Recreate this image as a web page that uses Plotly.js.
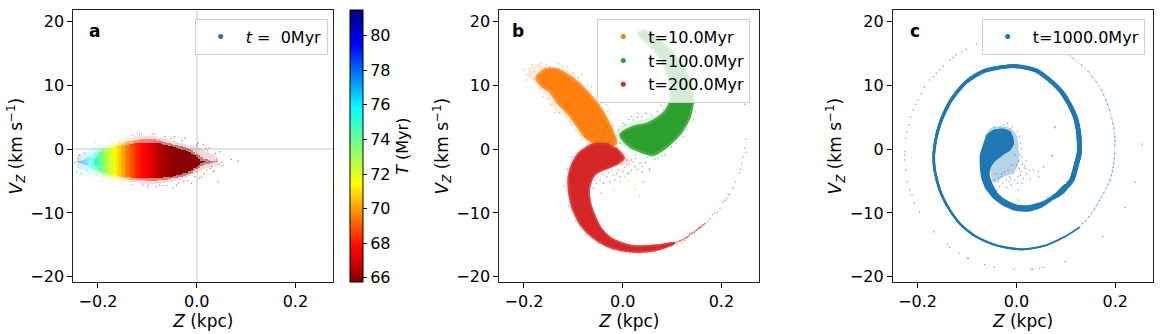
<!DOCTYPE html>
<html><head><meta charset="utf-8">
<script src="https://cdn.plot.ly/plotly-3.0.1.min.js"></script>
<style>html,body{margin:0;padding:0;background:#fff}</style></head>
<body><div id="chart" style="width:1163px;height:334px"></div>
<script>
// ---- Panel a: columns
const aZ=[-0.240,-0.235,-0.230,-0.225,-0.220,-0.215,-0.210,-0.205,-0.200,-0.195,-0.190,-0.185,-0.180,-0.175,-0.170,-0.165,-0.160,-0.155,-0.150,-0.145,-0.140,-0.135,-0.130,-0.125,-0.120,-0.115,-0.110,-0.105,-0.100,-0.095,-0.090,-0.085,-0.080,-0.075,-0.070,-0.065,-0.060,-0.055,-0.050,-0.045,-0.040,-0.035,-0.030,-0.025,-0.020,-0.015,-0.010,-0.005,0.000,0.005,0.010,0.015,0.020,0.025,0.030,0.035,0.040];
const aT=[78.0,77.6,77.2,76.8,76.3,75.8,75.4,75.0,74.5,74.0,73.5,73.0,72.6,72.2,71.8,71.4,71.0,70.6,70.2,69.8,69.4,69.1,68.8,68.5,68.2,68.0,67.8,67.6,67.4,67.2,67.0,66.8,66.6,66.5,66.4,66.3,66.2,66.1,66.0,65.9,65.9,65.9,65.9,65.9,65.9,65.9,65.9,65.9,65.9,65.9,65.9,65.9,65.9,65.9,65.9,65.9,65.9];
const aFringeLow=[-3.0,-3.3,-3.5,-3.8,-4.0,-4.1,-4.2,-4.3,-4.4,-4.5,-4.6,-4.7,-4.8,-4.9,-5.0,-5.0,-5.1,-5.1,-5.2,-5.2,-5.2,-5.3,-5.3,-5.3,-5.3,-5.4,-5.4,-5.4,-5.4,-5.4,-5.4,-5.4,-5.4,-5.4,-5.3,-5.3,-5.2,-5.2,-5.1,-5.0,-4.9,-4.8,-4.7,-4.5,-4.4,-4.2,-4.0,-3.9,-3.7,-3.5,-3.3,-3.1,-3.0,-2.9,-2.8,-2.7,-2.6];
const aFringeHigh=[-1.0,-0.8,-0.6,-0.4,-0.2,0,0.2,0.3,0.4,0.5,0.6,0.7,0.8,0.9,1.0,1.2,1.3,1.4,1.5,1.6,1.7,1.8,1.9,2.0,2.0,2.0,2.0,2.0,2.0,2.0,2.0,2.0,1.9,1.8,1.7,1.6,1.5,1.4,1.3,1.2,1.1,1.0,0.9,0.8,0.7,0.6,0.5,0.4,0.3,0.2,0,-0.2,-0.4,-0.6,-0.8,-1.0,-1.2];
const aMidLow=[-2.1,-2.2,-2.3,-2.5,-2.7,-2.9,-3.1,-3.4,-3.7,-3.9,-4.0,-4.1,-4.2,-4.3,-4.4,-4.5,-4.5,-4.6,-4.6,-4.7,-4.7,-4.8,-4.8,-4.8,-4.9,-4.9,-4.9,-4.9,-5.0,-5.0,-5.0,-5.0,-5.0,-4.9,-4.9,-4.8,-4.8,-4.7,-4.6,-4.5,-4.5,-4.4,-4.3,-4.2,-4.1,-3.9,-3.7,-3.5,-3.2,-3.0,-2.7,-2.5,-2.4,-2.3,-2.2,-2.1,-2.05];
const aMidHigh=[-1.9,-1.8,-1.7,-1.5,-1.3,-1.1,-0.9,-0.5,-0.2,0,0.1,0.2,0.3,0.4,0.5,0.6,0.8,0.9,1.0,1.1,1.2,1.3,1.3,1.4,1.4,1.5,1.5,1.5,1.5,1.5,1.5,1.5,1.4,1.3,1.2,1.1,1.0,0.9,0.8,0.7,0.6,0.5,0.4,0.3,0.2,0,-0.2,-0.4,-0.7,-1.0,-1.3,-1.5,-1.6,-1.7,-1.8,-1.9,-1.95];
const aCoreLow=[-2,-2,-2,-2,-2,-2,-2,-2.6,-3.1,-3.5,-3.7,-3.8,-3.9,-4.0,-4.0,-4.1,-4.2,-4.2,-4.3,-4.3,-4.4,-4.4,-4.5,-4.5,-4.5,-4.6,-4.6,-4.6,-4.6,-4.6,-4.6,-4.6,-4.6,-4.5,-4.5,-4.4,-4.4,-4.3,-4.3,-4.2,-4.1,-4.0,-3.9,-3.8,-3.7,-3.5,-3.3,-3.0,-2.8,-2.5,-2.2,-2.05,-2,-2,-2,-2,-2];
const aCoreHigh=[-2,-2,-2,-2,-2,-2,-2,-1.4,-0.9,-0.5,-0.2,-0.1,0,0.1,0.2,0.3,0.4,0.5,0.6,0.7,0.7,0.8,0.8,0.9,0.9,1.0,1.0,1.0,1.0,1.0,1.0,1.0,1.0,0.9,0.8,0.7,0.6,0.5,0.4,0.3,0.1,0,-0.1,-0.2,-0.3,-0.5,-0.7,-1.0,-1.2,-1.5,-1.8,-1.95,-2,-2,-2,-2,-2];
const aSpeckZ=[-0.247,-0.237,-0.244,-0.234,-0.227,-0.21,-0.197,-0.203,-0.183,-0.159,-0.156,-0.149,-0.139,-0.116,-0.126,-0.109,-0.075,-0.045,-0.024,0.003,0.013,0.02,0.03,0.04,0.047,0.07,0.084,0.006,-0.011,-0.041,-0.048,-0.075,0.043,0.053,-0.09,-0.10,-0.13,-0.06,-0.03,0.015,0.025,0.033,-0.24,-0.228,-0.222,-0.215,-0.205,-0.19,-0.175,-0.165,-0.145,-0.12,-0.098,-0.085,-0.068,-0.052,-0.036,-0.018,0.0,0.01,0.022,0.036,0.046,-0.172,-0.152,-0.132,-0.112,-0.082,-0.064,-0.026,-0.004,0.018,0.028,0.038,0.05];
const aSpeckV=[-2.14,-0.94,-3.55,-3.8,-0.68,0.37,0.63,-4.07,-4.59,1.67,1.15,-5.11,0.89,2.19,1.15,-5.63,1.41,1.93,1.67,0.9,0.7,-3.29,-2.76,-1.72,-0.42,-1.62,-1.88,-4.59,-5.37,-5.63,-6.15,-5.63,-5.12,-2.61,2.3,-5.9,2.1,-5.7,1.3,-3.9,0.2,-3.6,-1.5,-4.0,-3.3,-4.5,1.0,-4.9,1.3,-5.4,2.05,2.5,-5.6,2.35,-5.75,1.7,-5.3,-5.0,0.6,-4.4,-0.2,-3.4,-2.4,-5.2,-5.4,-5.55,2.4,-5.85,1.95,-5.05,-4.3,0.1,-3.1,-0.7,-2.1];
const aSpeckT=[78.6,78,78.3,77.8,77,75.4,74.2,75,72.8,71,70.7,70.1,69.3,68.1,68.6,67.8,66.5,65.9,65.9,65.9,65.9,65.9,65.9,65.9,65.9,65.9,65.9,65.9,65.9,65.9,65.9,66.5,65.9,65.9,67,67.4,68.8,66.2,65.9,65.9,65.9,65.9,78,77,76.5,75.9,75,73.5,72.2,71.4,69.8,68.2,67.3,66.8,66.4,66,65.9,65.9,65.9,65.9,65.9,65.9,65.9,72,70.6,68.8,68,66.7,66.3,65.9,65.9,65.9,65.9,65.9,65.9];
const colorTicks=[66,68,70,72,74,76,78,80];

// ---- Panel b: outlines [Z,V]
const orangeCore=[[-0.172,11.2],[-0.155,12.3],[-0.135,12.3],[-0.117,11.58],[-0.093,10.28],[-0.073,8.71],[-0.053,6.89],[-0.036,4.8],[-0.022,2.45],[-0.016,0.89],[-0.049,0.89],[-0.073,1.93],[-0.09,3.76],[-0.107,5.58],[-0.127,7.15],[-0.147,9.23],[-0.162,10.0]];
const orangeEdge=[[-0.198,11.58],[-0.178,13.15],[-0.141,12.88],[-0.11,12.36],[-0.083,10.53],[-0.06,8.45],[-0.039,6.37],[-0.022,4.02],[-0.009,1.15],[-0.056,0.63],[-0.08,1.41],[-0.1,3.49],[-0.117,4.8],[-0.137,6.1],[-0.161,8.71],[-0.178,10.28]];
const orangeSpecks=[[0.011,-3.81],[-0.019,-6.42],[-0.005,-5.11],[0.025,-6.31],[0.034,-7.36],[0.005,-4.33],[0.015,-3.55],[0.012,-5],[-0.201,12.36],[-0.195,10.8],[-0.184,13.15],[-0.171,13.15],[-0.154,13.25],[-0.13,13.41],[-0.113,12.88],[-0.083,11.68],[-0.188,11.58],[-0.174,10.54],[-0.161,8.19],[-0.138,5.58],[-0.117,5.58],[-0.086,2.19],[-0.063,9.75],[-0.039,7.41],[-0.026,5.32],[-0.032,6.89],[-0.103,3.76],[-0.076,1.93],[-0.19,12.6],[-0.18,12.1],[-0.166,13.4],[-0.148,12.9],[-0.122,13.0],[-0.1,11.9],[-0.09,11.1],[-0.072,9.9],[-0.052,8.0],[-0.044,7.2],[-0.03,5.9],[-0.18,10.9],[-0.168,9.5],[-0.152,7.9],[-0.145,6.9],[-0.128,5.7],[-0.108,4.3],[-0.095,2.9],[-0.083,1.5]];
const greenCore=[[0.042,18.36],[0.069,17.06],[0.096,15.23],[0.123,12.36],[0.136,9.75],[0.14,7.67],[0.133,5.05],[0.116,2.71],[0.089,0.63],[0.062,-0.67],[0.035,-0.16],[0.011,0.89],[-0.002,2.19],[0.021,3.24],[0.049,3.76],[0.069,4.54],[0.089,5.84],[0.099,7.4],[0.101,8.97],[0.096,11.31],[0.082,13.93],[0.059,16.28],[0.035,18.0]];
const greenEdge=[[0.025,19.04],[0.069,17.58],[0.103,15.49],[0.128,12.63],[0.143,9.75],[0.145,7.4],[0.138,4.54],[0.12,2.19],[0.092,0.11],[0.065,-1.36],[0.035,-0.67],[0.008,0.11],[-0.016,1.41],[-0.005,3.49],[0.021,4.27],[0.049,4.8],[0.069,5.32],[0.086,6.37],[0.094,7.67],[0.096,8.97],[0.089,11.31],[0.076,13.66],[0.055,15.76],[0.032,17.58],[0.021,18.36]];
const greenSpecks=[[-0.032,3.5],[-0.039,2.19],[0.001,4.02],[-0.009,2.97],[-0.019,1.93],[0.022,4.54],[0.039,5.06],[0.059,5.32],[0.082,6.1],[0.093,8.19],[-0.005,0.89],[0.015,0.1],[0.042,-0.42],[0.072,-1.46],[0.099,0.37],[0.123,1.93],[0.143,4.54],[0.145,7.15],[0.147,9.75],[-0.036,3.5],[-0.043,1.67],[-0.036,0.89],[-0.05,3.2],[0.055,-1.1],[0.085,-0.9],[0.03,4.9],[0.012,4.6],[-0.025,3.0],[0.005,3.8],[0.018,5.1],[0.03,5.6],[0.048,5.6],[0.07,5.9],[0.078,6.8],[0.088,7.5],[0.027,-0.9],[0.05,-1.3],[0.065,-1.6],[0.08,-1.1],[0.108,0.9],[0.13,3.1],[0.148,5.8],[-0.012,0.2],[-0.028,1.1],[-0.02,3.6]];
const redCore=[[0.001,-1.46],[-0.012,-0.16],[-0.032,0.63],[-0.06,0.63],[-0.087,-0.67],[-0.1,-2.24],[-0.108,-4.33],[-0.107,-6.93],[-0.1,-9.28],[-0.083,-11.89],[-0.06,-13.72],[-0.032,-15.02],[-0.005,-15.7],[0.021,-15.96],[0.049,-15.92],[0.076,-15.54],[0.103,-14.76],[0.076,-15.13],[0.049,-15.29],[0.021,-15.29],[-0.005,-14.76],[-0.026,-13.98],[-0.043,-12.68],[-0.056,-10.85],[-0.066,-8.76],[-0.07,-6.68],[-0.066,-5.12],[-0.056,-3.8],[-0.036,-3.02],[-0.012,-2.24]];
const redEdge=[[0.018,-1.99],[-0.009,0.36],[-0.032,1.14],[-0.063,1.14],[-0.093,-0.42],[-0.107,-2.24],[-0.115,-4.59],[-0.112,-7.2],[-0.105,-9.55],[-0.088,-12.16],[-0.063,-14.13],[-0.036,-15.38],[-0.005,-16.12],[0.025,-16.32],[0.052,-16.23],[0.079,-15.81],[0.113,-14.5],[0.076,-14.87],[0.049,-14.98],[0.018,-14.87],[-0.009,-14.35],[-0.029,-13.46],[-0.047,-12.16],[-0.061,-10.33],[-0.072,-8.5],[-0.076,-6.42],[-0.066,-4.33],[-0.043,-3.29],[-0.012,-2.77]];
const redSpecks=[[0.008,-1.72],[0.022,-1.98],[0.035,-2.24],[0.039,-2.76],[0.018,-3.29],[0.001,-3.55],[0.011,-3.81],[-0.005,-4.33],[-0.019,-4.07],[-0.032,-4.33],[-0.046,-4.85],[-0.039,-5.37],[-0.026,-5.11],[-0.043,-6.94],[-0.059,-6.16],[0.039,-3.55],[0.054,-3.03],[0.055,-3.39],[0.042,-5.11],[0.025,-2.76],[-0.009,-3.29],[0.008,-2.5],[0.018,-1.72],[-0.022,-3.29],[-0.016,-4.85],[-0.053,-5.37],[0.004,-2.9],[-0.002,-2.3],[0.013,-2.4],[-0.012,-3.8],[-0.028,-3.7],[-0.04,-3.9],[-0.05,-4.4],[-0.056,-4.9],[0.03,-3.2],[0.046,-2.1],[0.026,-1.5],
 [0.089,-15.02],[0.103,-14.76],[0.116,-14.35],[0.13,-13.82],[0.14,-13.19],[0.15,-12.68],[0.157,-12.3],[0.167,-11.63],[0.177,-10.85],[0.187,-10.06],[0.197,-9.28],[0.204,-8.25],[0.211,-7.72],[0.217,-7.2],[0.223,-6.15],[0.228,-5.12],[0.236,-3.8],[0.238,-3.18],[0.241,-2.24],[0.244,-1.3],[0.25,-0.52],[0.248,0.11],[0.25,1.52],[0.247,7.0],[0.12,-14.6],[0.145,-13.1],[0.162,-11.8],[0.172,-11.4],[0.182,-10.3],[0.192,-9.9],[0.208,-8.0],[0.214,-7.0],[0.11,-14.9],[0.125,-14.3],[0.135,-13.2],[0.155,-12.2],[0.035,-16.4],[0.065,-16.0],[0.015,-16.4],[-0.02,-15.8],[-0.05,-14.7],[-0.075,-13.4],[-0.095,-11.2],[-0.11,-8.9],[-0.118,-5.8],[-0.113,-3.2],[-0.104,-1.3]];
const redTail=[[0.09,-15.0],[0.103,-14.75],[0.116,-14.35],[0.13,-13.82],[0.14,-13.19],[0.15,-12.68],[0.167,-11.63]];

// ---- Panel c
const blobCore=[[-0.012,2.8],[-0.027,3.2],[-0.046,3.0],[-0.06,2.2],[-0.068,0.63],[-0.074,-0.94],[-0.074,-2.76],[-0.071,-4.59],[-0.063,-6.16],[-0.047,-7.72],[-0.027,-8.87],[-0.003,-9.65],[0.024,-9.81],[0.051,-9.18],[0.074,-7.98],[0.098,-6.42],[0.098,-5.48],[0.078,-6.94],[0.054,-8.14],[0.027,-8.76],[0,-8.66],[-0.02,-7.98],[-0.037,-6.94],[-0.047,-5.63],[-0.054,-4.07],[-0.052,-2.9],[-0.043,-1.9],[-0.028,-1.0],[-0.012,-0.2],[-0.005,0.8],[-0.006,1.8]];
const blobEdge=[[-0.064,2.19],[-0.051,3.3],[-0.034,3.6],[-0.012,3.3],[0.002,1.93],[0.004,0.1],[0.006,-1.6],[-0.004,-3.6],[-0.027,-4.4],[-0.047,-5.3],[-0.054,-2.5]];
const blobSpecks=[[0.01,0.1],[0.01,-3.55],[0.02,-3.81],[0.003,-4.33],[0.014,-4.59],[0.034,-3.29],[0.044,-3.55],[0.045,-4.33],[0.078,3.34],[0.055,-2.87],[0.072,-1.04],[-0.018,4.02],[0.011,-5.37],[0.062,-7.62],[0.003,-7.98],[-0.014,-4.33],[-0.027,-5.37],[-0.037,-5.11],[-0.034,-5.89],[-0.041,-3.81],[-0.017,-3.29],[-0.003,-4.85],[-0.024,-3.55],[-0.01,-2.5],[-0.003,-0.94],[0.007,-0.94],[0,-2.5],[-0.007,-3.81],[-0.03,-4.33],[0.02,-1.8],[0.016,-2.7],[-0.02,-6.0],[-0.01,-5.6],[0.004,-6.4],[0.028,-4.7],[0.006,-3.0],[0.004,-1.9],[0.011,-1.2],[0.008,0.9],[0.006,2.0],[0.002,2.8],[-0.008,3.5],[-0.025,3.8],[-0.045,3.5],[-0.012,-4.7],[-0.02,-4.8],[-0.03,-3.9],[-0.036,-4.6],[-0.044,-4.9],[-0.04,-6.5],[-0.015,-5.1],[0.012,-2.4],[0.018,-3.0],[0.026,-3.3],[0.002,-5.3],[0.008,-4.1],[-0.032,-7.4]];
const armPoints=[[0.074,-7.6],[0.092,-6.68],[0.103,-5.7],[0.112,-4.85],[0.122,-2.24],[0.127,-0.68],[0.126,2.45],[0.12,4.8],[0.108,6.89],[0.091,8.97],[0.067,10.8],[0.041,12.25],[0.007,12.9],[-0.014,12.95],[-0.064,12.25],[-0.101,10.53],[-0.132,7.67],[-0.152,4.54],[-0.162,1.93],[-0.167,-0.68],[-0.166,-3.0],[-0.155,-6.42],[-0.139,-9.03],[-0.115,-11.63],[-0.084,-13.6],[-0.044,-15.0],[0.01,-15.7],[0.057,-15.13],[0.098,-13.7],[0.128,-12.2]];
const armWidths=[4.6,4.6,4.8,4.8,4.8,4.8,4.6,4.4,4.2,4.0,3.9,3.8,3.6,3.6,3.4,3.2,3.0,2.8,2.6,2.5,2.4,2.3,2.2,2.0,1.9,1.7,1.6,1.5,1.3,1.1];
const outerFaint=[[0.128,-12.2],[0.152,-10.06],[0.172,-7.47],[0.189,-4.85],[0.197,-2.24],[0.199,0.63],[0.197,3.24],[0.188,6.1],[0.172,9.23],[0.145,12.1],[0.115,14.19],[0.081,16.01]];
const outerSpecks=[[0.134,-11.6],[0.14,-11.2],[0.146,-10.6],[0.152,-10.06],[0.158,-9.4],[0.163,-8.8],[0.168,-8.1],[0.172,-7.47],[0.177,-6.8],[0.181,-6.1],[0.185,-5.5],[0.189,-4.85],[0.192,-4.1],[0.194,-3.5],[0.196,-2.9],[0.197,-2.24],[0.198,-1.5],[0.199,-0.68],[0.199,0.63],[0.2,1.3],[0.199,1.93],[0.197,3.24],[0.195,4.0],[0.193,4.8],[0.188,6.1],[0.184,7.0],[0.181,7.67],[0.176,8.5],[0.172,9.23],[0.161,10.53],[0.153,11.3],[0.145,12.1],[0.132,13.15],[0.115,14.19],[0.098,15.23],[0.081,16.01],[0.054,16.79],[0.034,17.32],[0.01,17.48],[-0.024,17.3],[-0.044,17.17],[-0.064,16.79],[-0.081,16.43],[-0.101,15.6],[-0.122,14.7],[-0.135,13.93],[-0.162,11.85],[-0.176,10.8],[-0.186,9.66],[-0.199,7.67],[-0.209,6.1],[-0.218,3.76],[-0.224,1.67],[-0.226,-0.42],[-0.226,-0.94],[-0.226,-1.72],[-0.224,-3.29],[-0.221,-5.12],[-0.216,-6.42],[-0.211,-7.2],[-0.206,-8.4],[-0.196,-9.81],[-0.167,-12.94],[-0.14,-14.9],[-0.135,-15.4],[-0.116,-16.3],[-0.099,-17.1],[-0.097,-17.1],[-0.064,-18.05],[-0.045,-18.5],[-0.005,-18.8],[0.03,-18.8],[0.033,-18.8],[0.047,-18.7],[0.054,-18.5],[0.098,-17.6],[0.174,-13.7],[0.22,-9.1],[0.24,-5.2],[0.254,0.73],[0.078,3.5],[0.073,-1.04],[-0.11,15.2],[-0.128,14.3],[-0.148,13.0],[-0.155,12.4],[-0.168,11.3],[-0.192,8.7],[-0.204,7.0],[-0.214,5.0],[-0.222,2.7]];

// ---- Tick labels and legend labels
const zTicks=[-0.2,0,0.2];
const vTicks=[-20,-10,0,10,20];
const labelA='<i>t</i>\u00a0=\u00a0\u00a00Myr';
const labelsB=['t=10.0Myr','t=100.0Myr','t=200.0Myr'];
const labelC='t=1000.0Myr';

const C={orange:'#ff7f0e',green:'#2ca02c',red:'#d62728',blue:'#1f77b4'};
const W=1163,H=334;
const FONT='"DejaVu Sans",sans-serif';
const jetR=[[0,'#800000'],[0.11,'#ff0000'],[0.125,'#ff0000'],[0.36,'#ffff00'],[0.5,'#7dff7a'],[0.64,'#00ffff'],[0.875,'#0000ff'],[0.89,'#0000f1'],[1,'#000080']];
const Tmin=65.75,Tmax=81.47;
const xs=p=>p.map(d=>d[0]), ys=p=>p.map(d=>d[1]);
const closed=p=>p.concat([p[0]]);
const poly=(p,color,ax,op)=>({type:'scatter',mode:'lines',x:xs(p),y:ys(p),xaxis:ax[0],yaxis:ax[1],fill:'toself',fillcolor:color,opacity:op===undefined?1:op,line:{width:0,shape:'spline',smoothing:0.6},hoverinfo:'skip',showlegend:false});
const halo=(p,color,ax,w)=>({type:'scatter',mode:'lines',x:xs(closed(p)),y:ys(closed(p)),xaxis:ax[0],yaxis:ax[1],opacity:0.85,line:{color:color,width:w||5,shape:'spline',smoothing:0.6},hoverinfo:'skip',showlegend:false});
const specks=(p,color,ax,op,sz)=>({type:'scatter',mode:'markers',x:xs(p),y:ys(p),xaxis:ax[0],yaxis:ax[1],marker:{color:color,size:sz||1.5,opacity:op||0.6,line:{width:0}},hoverinfo:'skip',showlegend:false});
const key=(name,color,ax,lg)=>({type:'scatter',mode:'markers',x:[null],y:[null],xaxis:ax[0],yaxis:ax[1],name:name,legend:lg,marker:{color:color,size:5},showlegend:true});
const A=['x','y'],B=['x2','y2'],D=['x3','y3'];
const diff=(h,l)=>h.map((v,i)=>v-l[i]);
const aBar=(hi,lo,op)=>({type:'bar',x:aZ,y:diff(hi,lo),base:lo,width:0.005,opacity:op,showlegend:false,hoverinfo:'skip',marker:{color:aT,cmin:Tmin,cmax:Tmax,colorscale:jetR,showscale:false,line:{width:0}}});
// Windows of four points keep each spline's tangents continuous across width changes
const armTraces=armPoints.slice(0,-1).map((_,i)=>{const s=armPoints.slice(Math.max(0,i-1),i+3);return {type:'scatter',mode:'lines',x:xs(s),y:ys(s),xaxis:'x3',yaxis:'y3',line:{color:C.blue,width:armWidths[i],shape:'spline',smoothing:1},hoverinfo:'skip',showlegend:false};});
const traces=[
 aBar(aFringeHigh,aFringeLow,0.14),aBar(aMidHigh,aMidLow,0.42),
 {type:'bar',x:aZ,y:diff(aCoreHigh,aCoreLow),base:aCoreLow,width:0.0054,showlegend:false,hoverinfo:'skip',
  marker:{color:aT,cmin:Tmin,cmax:Tmax,colorscale:jetR,showscale:true,line:{width:0},
   colorbar:{x:350.3/W,xanchor:'left',xref:'paper',y:1-146.2/H,yanchor:'middle',yref:'paper',thickness:13,thicknessmode:'pixels',len:271.7,lenmode:'pixels',xpad:0,ypad:0,
    outlinewidth:1,outlinecolor:'#000',tickmode:'array',tickvals:colorTicks,ticks:'outside',ticklen:4,tickcolor:'#000',tickfont:{family:FONT,size:16,color:'#000'},
    title:{text:'<i>T</i> (Myr)',side:'right',font:{family:FONT,size:16,color:'#000'}}}}},
 {type:'scatter',mode:'markers',x:aSpeckZ,y:aSpeckV,marker:{color:aSpeckT,cmin:Tmin,cmax:Tmax,colorscale:jetR,size:1.5,opacity:0.5,line:{width:0}},hoverinfo:'skip',showlegend:false},
 key(labelA,C.blue,A,'legend'),
 poly(orangeEdge,C.orange,B,0.14),halo(orangeCore,C.orange,B),poly(orangeCore,C.orange,B),specks(orangeSpecks,C.orange,B),
 poly(greenEdge,C.green,B,0.14),halo(greenCore,C.green,B),poly(greenCore,C.green,B),specks(greenSpecks,C.green,B),
 poly(redEdge,C.red,B,0.16),halo(redCore,C.red,B,3.5),poly(redCore,C.red,B),
 {type:'scatter',mode:'lines',x:xs(redTail),y:ys(redTail),xaxis:'x2',yaxis:'y2',line:{color:C.red,width:1.3,shape:'spline'},opacity:0.55,hoverinfo:'skip',showlegend:false},
 specks(redSpecks,C.red,B,0.55),
 key(labelsB[0],C.orange,B,'legend2'),key(labelsB[1],C.green,B,'legend2'),key(labelsB[2],C.red,B,'legend2'),
 poly(blobEdge,C.blue,D,0.32),poly(blobCore,C.blue,D),
 ...armTraces,
 {type:'scatter',mode:'lines',x:xs(outerFaint),y:ys(outerFaint),xaxis:'x3',yaxis:'y3',opacity:0.25,line:{color:C.blue,width:1,shape:'spline'},hoverinfo:'skip',showlegend:false},
 specks(blobSpecks,C.blue,D,0.6),specks(outerSpecks,C.blue,D,0.65),
 key(labelC,C.blue,D,'legend3')
];
const tickFont={family:FONT,size:16,color:'#000'};
const titleFont={family:FONT,size:17,color:'#000'};
const RX=[-0.25,0.2768],RY=[-20.8,21.7];
const axX=(px0,px1,anchor,zero)=>({domain:[px0/W,px1/W],range:RX,anchor:anchor,tickmode:'array',tickvals:zTicks,ticktext:['\u22120.2','0.0','0.2'],ticks:'outside',ticklen:5,tickcolor:'#000',tickfont:tickFont,showgrid:false,zeroline:zero,zerolinecolor:'#e2e2e2',zerolinewidth:2,showline:true,mirror:true,linecolor:'#222',linewidth:1,title:{text:'<i>Z</i> (kpc)',font:titleFont,standoff:1}});
const axY=(anchor,zero)=>({domain:[1-282/H,1-10.3/H],range:RY,anchor:anchor,tickmode:'array',tickvals:vTicks,ticktext:['\u221220','\u221210','0','10','20'],ticks:'outside',ticklen:5,tickcolor:'#000',tickfont:tickFont,showgrid:false,zeroline:zero,zerolinecolor:'#e2e2e2',zerolinewidth:2,showline:true,mirror:true,linecolor:'#222',linewidth:1,title:{text:'<i>V<sub>Z</sub></i> (km s<sup>\u22121</sup>)',font:titleFont,standoff:3}});
const legend=(left,top)=>({x:left/W,y:1-top/H,xanchor:'left',yanchor:'top',xref:'paper',yref:'paper',bgcolor:'rgba(255,255,255,0.8)',bordercolor:'#d0d0d0',borderwidth:1,font:{family:FONT,size:16,color:'#000'},itemwidth:40,itemclick:false,itemdoubleclick:false});
const tag=(txt,ax,ay,x)=>({text:'<b>'+txt+'</b>',xref:ax+' domain',yref:ay+' domain',x:x,y:0.924,xanchor:'center',yanchor:'middle',showarrow:false,font:{family:FONT,size:17,color:'#000'}});
const layout={width:W,height:H,margin:{l:0,r:0,t:0,b:0},paper_bgcolor:'#fff',plot_bgcolor:'#fff',barmode:'overlay',bargap:0,showlegend:true,
 xaxis:axX(73.3,333.3,'y',true),yaxis:axY('x',true),
 xaxis2:axX(499.3,759.3,'y2',false),yaxis2:axY('x2',false),
 xaxis3:axX(892.8,1153.3,'y3',false),yaxis3:axY('x3',false),
 legend:legend(194.7,18.7),legend2:legend(597.3,18.7),legend3:legend(981.7,18.7),
 annotations:[tag('a','x','y',0.08),tag('b','x2','y2',0.07),tag('c','x3','y3',0.085)]};
Plotly.newPlot('chart',traces,layout,{displayModeBar:false,staticPlot:true});
</script></body></html>
